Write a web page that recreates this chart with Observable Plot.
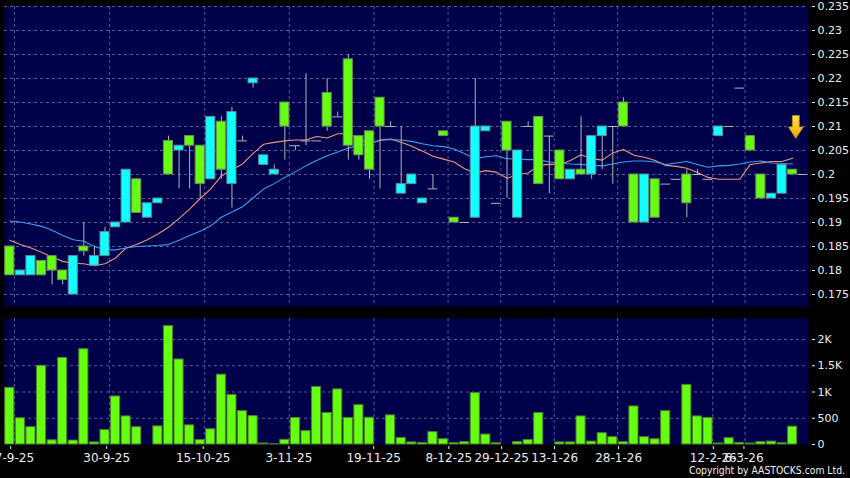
<!DOCTYPE html>
<html><head><meta charset="utf-8">
<script src="https://cdn.jsdelivr.net/npm/d3@7"></script>
<script src="https://cdn.jsdelivr.net/npm/@observablehq/plot@0.6"></script>
<style>
html,body{margin:0;padding:0;background:#000;}
#chart{position:relative;width:850px;height:478px;background:#000;overflow:hidden;font-family:"DejaVu Sans",sans-serif;}
#price{position:absolute;left:0;top:0;}
#vol{position:absolute;left:0;top:312px;}
#copy{position:absolute;right:5px;top:464px;color:#f0f0f0;font-size:10.3px;font-family:"DejaVu Sans Condensed","DejaVu Sans",sans-serif;white-space:nowrap;}
</style></head><body>
<div id="chart"><div id="price"></div><div id="vol"></div><div id="copy">Copyright by AASTOCKS.com Ltd.</div></div>
<script>
// ---- data (one slot per trading session) ----
const openP  = [0.179,0.180,0.183,0.179,0.180,0.178,0.183,0.184,0.183,0.188,0.190,0.201,0.192,0.194,0.195,0.200,0.206,0.206,0.198,0.212,
                0.201,0.213,0.207,0.220,0.204,0.201,0.210,0.206,0.207,0.207,0.210,0.212,0.206,0.204,0.201,0.210,0.210,0.198,0.200,0.195,
                0.197,0.208,0.190,0.190,0.210,0.210,0.194,0.205,0.205,0.210,0.198,0.208,0.199,0.201,0.200,0.208,0.210,0.210,0.210,0.190,
                0.200,0.191,0.198,0.199,0.194,0.200,0.199,0.210,0.210,0.218,0.205,0.195,0.196,0.202,0.200,0.200];
const highP  = [0.185,0.180,0.183,0.182,0.183,0.180,0.183,0.190,0.185,0.189,0.190,0.201,0.199,0.194,0.195,0.208,0.206,0.208,0.206,0.212,
                0.212,0.214,0.208,0.220,0.204,0.202,0.215,0.206,0.221,0.207,0.220,0.213,0.225,0.208,0.209,0.216,0.211,0.210,0.200,0.195,
                0.200,0.209,0.191,0.190,0.220,0.210,0.194,0.211,0.205,0.211,0.212,0.208,0.205,0.201,0.212,0.208,0.210,0.210,0.216,0.200,
                0.200,0.199,0.198,0.199,0.201,0.201,0.199,0.210,0.210,0.218,0.208,0.200,0.196,0.202,0.201,0.200];
const lowP   = [0.179,0.179,0.179,0.179,0.177,0.177,0.175,0.183,0.181,0.183,0.189,0.190,0.192,0.191,0.194,0.200,0.197,0.197,0.195,0.199,
                0.199,0.193,0.207,0.218,0.202,0.200,0.203,0.205,0.206,0.207,0.209,0.212,0.203,0.203,0.199,0.197,0.210,0.196,0.198,0.194,
                0.197,0.208,0.190,0.190,0.191,0.209,0.194,0.195,0.191,0.210,0.198,0.196,0.199,0.199,0.200,0.199,0.201,0.198,0.210,0.190,
                0.190,0.191,0.198,0.199,0.191,0.200,0.199,0.208,0.210,0.218,0.205,0.195,0.195,0.196,0.200,0.200];
const closeP = [0.185,0.179,0.179,0.182,0.183,0.180,0.175,0.185,0.181,0.183,0.189,0.190,0.199,0.191,0.194,0.207,0.205,0.208,0.206,0.199,
                0.211,0.198,0.207,0.219,0.202,0.200,0.215,0.206,0.207,0.207,0.217,0.212,0.224,0.208,0.209,0.216,0.210,0.196,0.198,0.194,
                0.197,0.209,0.191,0.190,0.191,0.209,0.194,0.211,0.191,0.210,0.212,0.208,0.205,0.199,0.201,0.200,0.208,0.210,0.215,0.200,
                0.190,0.199,0.198,0.199,0.200,0.200,0.199,0.208,0.210,0.218,0.208,0.200,0.195,0.196,0.201,0.200];
const volume = [1080,500,330,1500,80,1650,75,1815,40,275,915,535,330,0,345,2255,1620,365,85,290,
                1330,945,635,540,20,5,90,505,255,1095,600,1050,505,750,510,0,555,125,40,30,
                235,100,25,45,980,190,25,0,45,85,600,0,40,40,535,55,215,140,45,725,
                140,100,635,0,1135,535,505,20,120,30,20,45,55,25,340,0];
// moving averages (orange = short, blue = long)
const maShort = [0.1863,0.1854,0.1847,0.1838,0.1828,0.1819,0.1815,0.1814,0.1810,0.1814,0.1826,0.1847,0.1854,0.1864,0.1876,0.1890,0.1908,0.1928,0.1950,0.1970,
                 0.1997,0.2010,0.2022,0.2044,0.2063,0.2067,0.2070,0.2072,0.2072,0.2079,0.2076,0.2085,0.2085,0.2074,0.2064,0.2072,0.2074,0.2067,0.2059,0.2049,
                 0.2038,0.2032,0.2026,0.2012,0.2003,0.2008,0.2005,0.1992,0.2000,0.2003,0.2019,0.2021,0.2021,0.2029,0.2041,0.2033,0.2030,0.2045,0.2052,0.2040,
                 0.2036,0.2029,0.2019,0.2017,0.2013,0.2004,0.1994,0.1990,0.1990,0.1990,0.2021,0.2024,0.2027,0.2027,0.2034];
const maLong  = [0.1903,0.1901,0.1897,0.1892,0.1884,0.1873,0.1864,0.1861,0.1850,0.1843,0.1843,0.1847,0.1850,0.1851,0.1852,0.1854,0.1863,0.1873,0.1882,0.1893,
                 0.1911,0.1922,0.1933,0.1951,0.1970,0.1981,0.1994,0.2006,0.2018,0.2029,0.2039,0.2047,0.2055,0.2061,0.2065,0.2071,0.2073,0.2072,0.2069,0.2064,
                 0.2060,0.2058,0.2053,0.2043,0.2033,0.2037,0.2039,0.2033,0.2032,0.2031,0.2031,0.2026,0.2024,0.2022,0.2021,0.2019,0.2018,0.2022,0.2026,0.2028,
                 0.2028,0.2026,0.2021,0.2024,0.2027,0.2021,0.2015,0.2018,0.2019,0.2022,0.2026,0.2028,0.2024,0.2023,0.2022];
// axes
const dateTickPos    = [0.08, 9.16, 18.28, 26.38, 34.4, 41.5, 46.5, 51.5, 57.55, 66.5, 69.4];
const dateGridPos    = [0.45, 9.44, 18.43, 26.42, 34.43, 41.43, 46.41, 51.46, 57.46, 66.45, 69.5];
const dateTickLabels = ["17-9-25","30-9-25","15-10-25","3-11-25","19-11-25","8-12-25","29-12-25","13-1-26","28-1-26","12-2-26","6-3-26"];
const priceTicks      = [0.175,0.18,0.185,0.19,0.195,0.2,0.205,0.21,0.215,0.22,0.225,0.23,0.235];
const priceTickLabels = ["0.175","0.18","0.185","0.19","0.195","0.2","0.205","0.21","0.215","0.22","0.225","0.23","0.235"];
const volTicks      = [0,500,1000,1500,2000];
const volTickLabels = ["0","500","1K","1.5K","2K"];
const marker = {slot: 74.3, price: 0.2099};

// ---- styling ----
const PANEL = "#00004a", GRID = "#5a5aa0", GREEN = "#66ff11", CYAN = "#11ffff";
const WICK = "#b4b4b4", ORANGE = "#e8987a", BLUE = "#3c9ef5", TEXT = "#ececec";
const XDOM = [-0.5, 75.5];

const candles = openP.map((o, i) => ({i, o, h: highP[i], l: lowP[i], c: closeP[i]}));
const up = candles.filter(d => d.c > d.o);
const down = candles.filter(d => d.c < d.o);
const flat = candles.filter(d => d.c === d.o);
const shortData = maShort.map((v, i) => ({i, v}));
const longData = maLong.map((v, i) => ({i, v}));
const volData = volume.map((v, i) => ({i, v})).filter(d => d.v > 0);
const HW = 0.43;

const arrowSymbol = {
  draw(ctx, size) {
    const k = Math.sqrt(size / Math.PI);
    ctx.moveTo(-3.5 * k, -11.5 * k);
    ctx.lineTo(3.5 * k, -11.5 * k);
    ctx.lineTo(3.5 * k, 0);
    ctx.lineTo(7.5 * k, 0);
    ctx.lineTo(0, 11.5 * k);
    ctx.lineTo(-7.5 * k, 0);
    ctx.lineTo(-3.5 * k, 0);
    ctx.closePath();
  }
};

const style = {background: "transparent", color: TEXT, fontFamily: "DejaVu Sans, sans-serif", overflow: "visible"};

const priceChart = Plot.plot({
  width: 850, height: 312, marginTop: 6, marginBottom: 6, marginLeft: 4, marginRight: 42,
  style,
  x: {domain: XDOM, axis: null},
  y: {domain: [0.1725, 0.235], axis: null},
  marks: [
    Plot.frame({fill: PANEL, stroke: null}),
    Plot.gridY(priceTicks, {stroke: GRID, strokeOpacity: 1, strokeDasharray: "3,3"}),
    Plot.gridX(dateGridPos, {stroke: GRID, strokeOpacity: 1, strokeDasharray: "3,3"}),
    Plot.axisY(priceTicks, {anchor: "right", label: null, tickSize: 3, dx: 3, tickPadding: 3, fontSize: 11,
      tickFormat: d => priceTickLabels[priceTicks.indexOf(d)], fill: TEXT, stroke: TEXT}),
    Plot.line(shortData, {x: "i", y: "v", stroke: ORANGE, strokeWidth: 1.1}),
    Plot.line(longData, {x: "i", y: "v", stroke: BLUE, strokeWidth: 1.1}),
    Plot.ruleX(candles.filter(d => d.h > d.l), {x: "i", y1: "l", y2: "h", stroke: WICK, strokeWidth: 1}),
    Plot.ruleY(flat, {y: "o", x1: d => d.i - 0.46, x2: d => d.i + 0.46, stroke: WICK, strokeWidth: 1}),
    Plot.rect(up, {x1: d => d.i - HW, x2: d => d.i + HW, y1: "o", y2: "c", fill: GREEN, stroke: "#6c8c5c", strokeWidth: 1}),
    Plot.rect(down, {x1: d => d.i - HW, x2: d => d.i + HW, y1: "o", y2: "c", fill: CYAN, stroke: "#5c8c94", strokeWidth: 1}),
    Plot.dot([marker], {x: "slot", y: "price", r: 1, symbol: arrowSymbol, fill: "url(#arrowGrad)", stroke: "#c98a00", strokeWidth: 0.6})
  ]
});
{
  const defs = d3.select(priceChart).insert("defs", ":first-child");
  const g = defs.append("linearGradient").attr("id", "arrowGrad").attr("x1", 0).attr("y1", 0).attr("x2", 0).attr("y2", 1);
  g.append("stop").attr("offset", "0").attr("stop-color", "#ffe050");
  g.append("stop").attr("offset", "0.6").attr("stop-color", "#f8c020");
  g.append("stop").attr("offset", "1").attr("stop-color", "#e89a00");
}
document.getElementById("price").appendChild(priceChart);

const volChart = Plot.plot({
  width: 850, height: 166, marginTop: 6, marginBottom: 34, marginLeft: 4, marginRight: 42,
  style,
  x: {domain: XDOM, axis: null},
  y: {domain: [0, 2400], axis: null},
  marks: [
    Plot.frame({fill: PANEL, stroke: null}),
    Plot.gridY(volTicks.filter(d => d > 0), {stroke: GRID, strokeOpacity: 1, strokeDasharray: "3,3"}),
    Plot.gridX(dateGridPos, {stroke: GRID, strokeOpacity: 1, strokeDasharray: "3,3"}),
    Plot.axisY(volTicks, {anchor: "right", label: null, tickSize: 3, dx: 3, tickPadding: 3, fontSize: 11,
      tickFormat: d => volTickLabels[volTicks.indexOf(d)], fill: TEXT, stroke: TEXT}),
    Plot.axisX(dateTickPos, {anchor: "bottom", label: null, tickSize: 3, dy: 2, tickPadding: 4, fontSize: 12,
      tickFormat: d => dateTickLabels[dateTickPos.indexOf(d)], fill: TEXT, stroke: TEXT}),
    Plot.rect(volData, {x1: d => d.i - HW, x2: d => d.i + HW, y1: 0, y2: "v", fill: GREEN, stroke: "#4d7f2a", strokeWidth: 1})
  ]
});
document.getElementById("vol").appendChild(volChart);
</script>
</body></html>
